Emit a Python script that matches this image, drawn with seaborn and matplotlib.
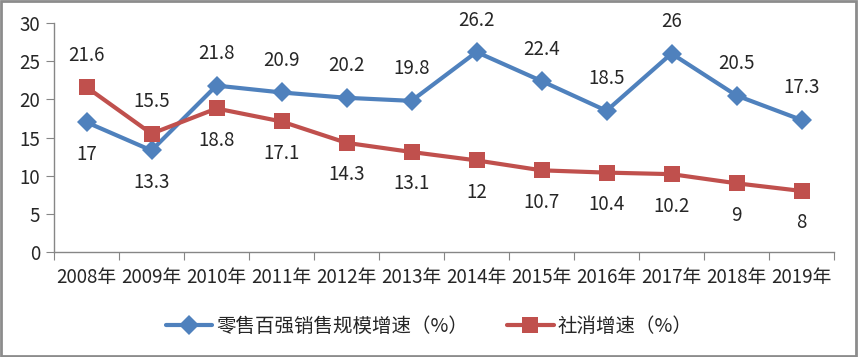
import pandas as pd
import seaborn as sns
import matplotlib.pyplot as plt
from matplotlib.patches import Rectangle

years = ['2008年', '2009年', '2010年', '2011年', '2012年', '2013年',
         '2014年', '2015年', '2016年', '2017年', '2018年', '2019年']
top100 = [17, 13.3, 21.8, 20.9, 20.2, 19.8, 26.2, 22.4, 18.5, 26, 20.5, 17.3]
retail = [21.6, 15.5, 18.8, 17.1, 14.3, 13.1, 12, 10.7, 10.4, 10.2, 9, 8]
name_a = '零售百强销售规模增速（%）'
name_b = '社消增速（%）'

sns.set_style('white')
plt.rcParams['font.family'] = ['Noto Sans CJK SC', 'DejaVu Sans']

df = pd.DataFrame({
    'x': list(range(len(years))) * 2,
    'v': top100 + retail,
    's': [name_a] * len(years) + [name_b] * len(years),
})

fig = plt.figure(figsize=(8.58, 3.57), dpi=100)
ax = fig.add_axes([54 / 858, 105 / 357, 780 / 858, 229 / 357])
pal = {name_a: '#4F81BD', name_b: '#C0504D'}
sns.lineplot(data=df, x='x', y='v', hue='s', style='s', palette=pal,
             markers={name_a: 'D', name_b: 's'}, dashes=False,
             markersize=10, linewidth=3, markeredgewidth=0, ax=ax, legend=False)
# squares look a bit bigger than the diamonds in the original
for ln in ax.lines:
    if ln.get_marker() == 's':
        ln.set_markersize(11)

# data labels: higher series above, lower series below
for i in range(len(years)):
    for val, other in ((top100[i], retail[i]), (retail[i], top100[i])):
        up = val >= other
        ax.annotate(f'{val:g}', (i, val), xytext=(0, 23 if up else -23),
                    textcoords='offset points', ha='center', va='center', fontsize=13.5)

ax.set_xlim(-0.5, len(years) - 0.5)
ax.set_ylim(0, 30)
ax.set_yticks(range(0, 31, 5))
ax.set_xticks([i - 0.5 for i in range(len(years) + 1)])
ax.set_xticklabels([])
ax.set_xticks(range(len(years)), minor=True)
ax.set_xticklabels(years, minor=True)
ax.tick_params(axis='x', which='major', length=6, color='#868686', direction='out', bottom=True)
ax.tick_params(axis='x', which='minor', length=0, labelsize=13.5, pad=11)
ax.tick_params(axis='y', length=6, color='#868686', direction='out', left=True, labelsize=13.5, pad=4)
ax.set_xlabel('')
ax.set_ylabel('')
for side in ('top', 'right'):
    ax.spines[side].set_visible(False)
for side in ('left', 'bottom'):
    ax.spines[side].set_color('#868686')
    ax.spines[side].set_linewidth(1)

handles = [plt.Line2D([], [], color=pal[name_a], marker='D', lw=3, ms=10, mew=0),
           plt.Line2D([], [], color=pal[name_b], marker='s', lw=3, ms=11, mew=0)]
fig.legend(handles, [name_a, name_b], loc='center', bbox_to_anchor=(0.5, 31 / 357),
           ncol=2, frameon=False, fontsize=14, handlelength=2.4, handletextpad=0.2,
           columnspacing=2.0)

fig.patches.append(Rectangle((0.001, 0.002), 0.997, 0.995, transform=fig.transFigure,
                             fill=False, edgecolor='#8c8c8c', linewidth=2))
fig.savefig('out.png', dpi=100)
